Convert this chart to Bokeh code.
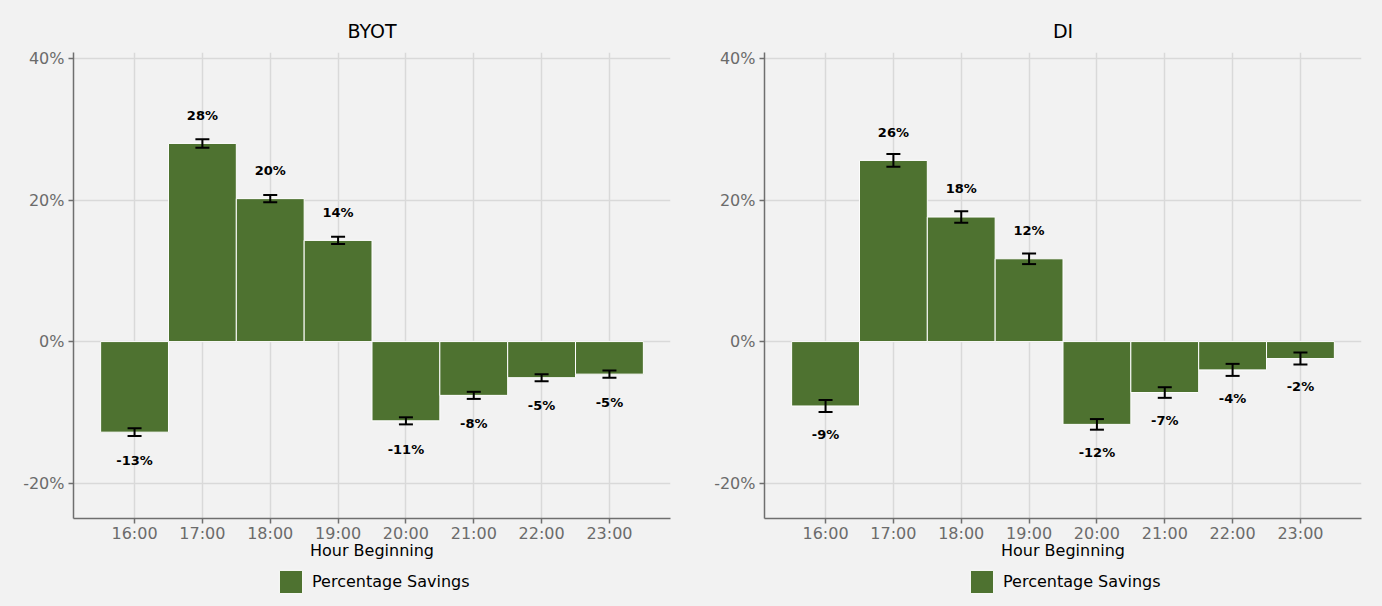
from bokeh.plotting import figure
from bokeh.layouts import row, column
from bokeh.models import (ColumnDataSource, Range1d, FixedTicker, Whisker, TeeHead,
                          Legend, LegendItem)
from bokeh.core.properties import value
from bokeh.embed import file_html
from bokeh.resources import INLINE

# Hour-beginning categories
hour_ticks = [16, 17, 18, 19, 20, 21, 22, 23]
hour_labels = ["16:00", "17:00", "18:00", "19:00", "20:00", "21:00", "22:00", "23:00"]

# Percentage savings by hour (%), with standard-error half widths
byot_savings = [-12.8, 28.0, 20.2, 14.3, -11.2, -7.6, -5.1, -4.6]
byot_err = [0.55, 0.6, 0.5, 0.5, 0.5, 0.5, 0.5, 0.5]

di_savings = [-9.1, 25.6, 17.6, 11.7, -11.7, -7.2, -4.0, -2.4]
di_err = [0.85, 0.9, 0.8, 0.75, 0.75, 0.75, 0.85, 0.85]

FONT = "DejaVu Sans"
BG = "#f2f2f2"
BAR = "#4e7230"
GRID = "#d9d9d9"
AXIS = "#6f6f6f"


def savings_panel(title, savings, err):
    labels = [f"{round(v):.0f}%" for v in savings]
    label_y = [v + 4.0 if v >= 0 else v - 4.0 for v in savings]
    src = ColumnDataSource(dict(
        x=hour_ticks, top=savings,
        lower=[v - e for v, e in zip(savings, err)],
        upper=[v + e for v, e in zip(savings, err)],
        label=labels, label_y=label_y,
    ))

    p = figure(frame_width=597, frame_height=466, output_backend="svg", toolbar_location=None,
               x_range=Range1d(15.1, 23.9), y_range=Range1d(-25, 40.85),
               min_border_left=73, min_border_right=21,
               min_border_top=52, min_border_bottom=50)
    p.background_fill_color = BG
    p.border_fill_color = BG
    p.outline_line_color = None

    p.title.text = title
    p.title.align = "center"
    p.title.standoff = 21
    p.title.text_font = FONT
    p.title.text_font_style = "normal"
    p.title.text_font_size = "19px"
    p.title.text_color = "black"

    p.vbar(x="x", top="top", bottom=0, width=1.0, source=src,
           fill_color=BAR, line_color="#ffffff", line_width=1)

    p.add_layout(Whisker(source=src, base="x", lower="lower", upper="upper",
                         level="overlay", line_color="black", line_width=2,
                         lower_head=TeeHead(size=14, line_color="black", line_width=2),
                         upper_head=TeeHead(size=14, line_color="black", line_width=2)))

    p.text(x="x", y="label_y", text="label", source=src,
           text_align="center", text_baseline="middle",
           text_font=value(FONT), text_font_style="bold",
           text_font_size="13px", text_color="black")

    # axes
    p.xaxis.ticker = FixedTicker(ticks=hour_ticks)
    p.xaxis.major_label_overrides = {t: l for t, l in zip(hour_ticks, hour_labels)}
    p.xaxis.axis_label = "Hour Beginning"
    p.yaxis.ticker = FixedTicker(ticks=[-20, 0, 20, 40])
    p.yaxis.major_label_overrides = {-20: "-20%", 0: "0%", 20: "20%", 40: "40%"}
    for ax in (p.xaxis, p.yaxis):
        ax.axis_line_color = AXIS
        ax.axis_line_width = 1.5
        ax.major_tick_line_color = AXIS
        ax.major_tick_line_width = 1.5
        ax.major_tick_out = 5
        ax.major_tick_in = 0
        ax.minor_tick_line_color = None
        ax.major_label_text_font = FONT
        ax.major_label_text_font_size = "16px"
        ax.major_label_text_color = "#6b6b6b"
        ax.axis_label_text_font = FONT
        ax.axis_label_text_font_size = "16px"
        ax.axis_label_text_font_style = "normal"
        ax.axis_label_text_color = "black"
    p.xaxis.major_label_standoff = 0
    p.xaxis.axis_label_standoff = -5
    p.yaxis.major_label_standoff = 4

    p.xgrid.ticker = FixedTicker(ticks=hour_ticks)
    p.grid.grid_line_color = GRID
    p.grid.grid_line_width = 1.5

    # legend strip underneath the panel; its swatch renderer sits outside the visible range
    lg = figure(frame_width=691, frame_height=38, output_backend="svg", toolbar_location=None,
                x_range=Range1d(0, 1), y_range=Range1d(0, 1), min_border=0)
    lg.axis.visible = False
    lg.grid.visible = False
    lg.outline_line_color = None
    lg.background_fill_color = BG
    lg.border_fill_color = BG
    swatch = lg.vbar(x=[-5], top=[-5], bottom=[-6], width=0.1,
                     fill_color=BAR, line_color="#ffffff", line_width=1)
    lg.add_layout(Legend(items=[LegendItem(label="Percentage Savings", renderers=[swatch])],
                         orientation="horizontal", location=(276, 10),
                         background_fill_alpha=0, border_line_alpha=0,
                         glyph_width=29, glyph_height=29, label_standoff=7,
                         label_text_font=FONT, label_text_font_size="16px",
                         label_text_color="black", padding=0, margin=0))
    return column(p, lg, spacing=0)


panel_byot = savings_panel("BYOT", byot_savings, byot_err)
panel_di = savings_panel("DI", di_savings, di_err)
layout = row(panel_byot, panel_di, spacing=0, styles={"background-color": BG})

open("out.html", "w").write(file_html(layout, INLINE))
